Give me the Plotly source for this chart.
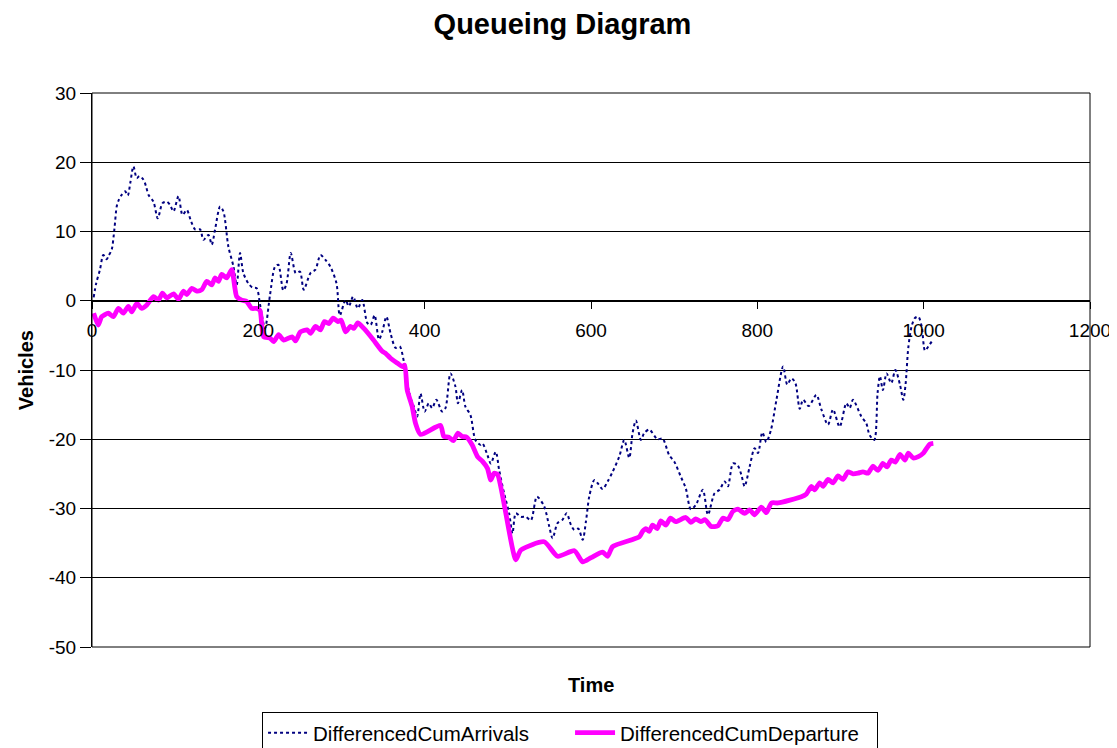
import plotly.graph_objects as go

# ---- data ----
arrival_time = [2, 5, 9.6, 13.6, 17.7, 20, 23.7, 26.9, 29.7, 32, 35.7, 39.8, 43, 46, 49.8, 53.8, 57,
                61.8, 65, 67.9, 73.9, 79.1, 84.8, 90, 94, 98, 104, 108.8, 114, 119, 124, 130, 134,
                140, 144, 148, 154, 158, 164, 170, 174, 178, 182, 188, 193, 198, 202, 208, 214, 220,
                224, 230, 234, 239, 245, 250, 254.6, 262.7, 268.7, 274.7, 280.7, 286.7, 294, 298,
                304.8, 308.8, 314, 319.6, 325, 331, 335, 339.8, 345, 349, 354, 359, 365, 370, 375,
                379, 383, 387, 391, 395, 400, 405, 409, 414, 421, 425, 431, 437, 440, 445, 449, 455,
                461, 467, 469.5, 475.5, 479.5, 485.5, 489.5, 495.5, 501.6, 505.6, 509.6, 515.7,
                521.7, 527.7, 535, 543.7, 549.8, 553.8, 559.8, 565.9, 570.7, 576, 580, 584.7, 590,
                594, 598, 604, 609, 614, 620, 626, 634, 640, 646, 650, 654, 660, 664, 670, 680, 686,
                694, 700, 708, 714, 720, 726, 734.5, 740.6, 748.6, 754.6, 760.6, 764.6, 770.7, 776,
                780.7, 784.7, 790.7, 796.7, 800.8, 806, 810.8, 816.5, 823, 831, 836, 841, 845.8, 851,
                855, 861.8, 871, 877, 885, 891, 899, 907, 911, 915, 925, 931, 935, 940.6, 944.6,
                947.4, 951, 955.4, 961, 966, 971.5, 975.5, 978.3, 981.5, 985.5, 989.5, 993.6, 997.6,
                1001.6, 1005.6, 1009.6]
arrivals = [0.5, 2.5, 4.5, 6.6, 6.0, 6.5, 7.4, 10.3, 13.6, 14.5, 15.3, 15.8, 15.2, 17.0, 19.4, 17.7,
            18.0, 17.5, 16.5, 15.3, 14.3, 11.9, 14.1, 14.3, 13.8, 12.9, 15.1, 12.4, 13.1, 11.5, 10.3,
            10.3, 8.8, 9.5, 8.1, 10.3, 13.6, 12.9, 7.8, 5.0, 2.3, 6.9, 4.0, 2.5, 1.9, 1.8, -0.5, -4.0,
            0.8, 4.9, 5.2, 1.5, 2.5, 6.9, 4.0, 4.2, 1.6, 4.0, 4.5, 6.6, 5.9, 4.9, 2.5, -2.1, 0.1,
            -0.8, 0.6, -1.1, 0.1, -3.2, -3.5, -2.1, -5.6, -4.5, -2.3, -4.7, -6.8, -6.6, -8.8, -11.9,
            -14.0, -15.3, -16.7, -13.4, -16.0, -14.8, -15.5, -14.3, -16.0, -15.5, -10.5, -12.4,
            -14.8, -12.9, -15.3, -16.5, -20.1, -20.8, -20.6, -22.3, -23.5, -21.8, -24.4, -27.8,
            -30.7, -33.6, -30.7, -31.2, -31.2, -31.7, -28.3, -29.7, -32.6, -34.3, -32.1, -31.6,
            -30.7, -32.4, -33.1, -32.9, -34.5, -31.8, -28.2, -25.9, -26.5, -27.2, -26.1, -24.7,
            -22.5, -20.1, -22.7, -19.1, -17.3, -20.1, -19.1, -18.6, -20.0, -19.9, -22.3, -23.2,
            -25.4, -27.1, -30.1, -29.5, -27.3, -30.9, -27.8, -27.3, -26.1, -26.8, -23.5, -23.7,
            -25.1, -26.8, -24.0, -21.3, -22.0, -19.0, -20.4, -18.6, -14.3, -9.5, -12.1, -11.2,
            -11.9, -15.6, -14.3, -15.2, -13.6, -15.7, -17.9, -15.7, -18.2, -14.8, -15.5, -14.3,
            -16.7, -17.7, -19.4, -20.1, -13.3, -10.9, -12.9, -10.5, -11.9, -10.0, -12.1, -14.3,
            -12.0, -6.8, -3.7, -2.5, -2.3, -3.7, -7.2, -6.6, -5.9]

departure_time = [2, 4, 7.6, 11.7, 19.6, 25.7, 31.7, 37.7, 43.7, 47.8, 53.8, 59.8, 65.9, 73.9, 79.9,
                  84.7, 89.9, 98, 104, 110, 114, 120, 126, 132, 138, 144, 148, 152, 156, 162, 168,
                  171.5, 174, 180, 186, 192, 198, 202, 206.4, 214, 218.4, 224.4, 230.5, 240.5, 244.6,
                  250.6, 258.6, 262.7, 268.7, 274.7, 279.5, 284.7, 290, 295.6, 299.6, 304.8, 310.8,
                  314.8, 319.6, 326.9, 338, 349, 353, 359, 367, 373, 376, 379, 385, 389, 395, 419,
                  423, 429, 434.6, 440, 445, 450.6, 457, 463.5, 469.5, 475.5, 479.5, 483.5, 487.6,
                  509.6, 515.7, 543.7, 559.8, 580, 590, 600, 614, 620, 626, 658, 662, 666, 670, 674,
                  679.5, 684, 690, 695.5, 702, 714, 720, 726, 732, 737, 744.6, 752.6, 758.6, 764.6,
                  770.7, 776.7, 784.7, 790.7, 796.7, 804.8, 810.8, 817, 825, 853, 859, 865, 869, 875,
                  879, 885, 891, 897, 903, 909, 915, 921, 927, 933, 939, 945, 951, 956, 961, 966,
                  971.5, 977.5, 981.5, 987.5, 993.6, 999.6, 1003.6, 1007.6, 1011.6]
departures = [-1.8, -2.5, -3.5, -2.3, -1.8, -2.3, -1.1, -1.8, -0.8, -1.6, -0.4, -1.1, -0.6, 0.6, 0.1,
              1.1, 0.4, 1.0, 0.2, 1.4, 0.9, 1.8, 1.4, 1.6, 2.8, 2.3, 3.3, 2.8, 3.8, 3.3, 4.5, 2.1,
              0.6, 0.1, -0.1, -1.1, -1.1, -1.4, -5.2, -5.4, -5.9, -4.9, -5.7, -5.2, -5.8, -4.5,
              -4.2, -4.7, -3.7, -4.2, -3.0, -3.3, -2.5, -3.0, -2.8, -4.5, -3.7, -4.0, -3.2, -4.0,
              -5.6, -7.3, -7.6, -8.3, -9.0, -9.5, -9.3, -12.9, -15.3, -17.7, -19.3, -18.0, -19.6,
              -19.7, -20.2, -19.1, -19.6, -19.7, -20.8, -22.5, -23.2, -24.2, -25.9, -24.9, -25.1,
              -37.4, -36.0, -34.8, -36.9, -36.1, -37.7, -37.1, -36.3, -36.9, -35.5, -34.1, -33.3,
              -32.9, -33.3, -32.4, -32.9, -31.8, -32.4, -31.4, -31.9, -31.3, -32.0, -31.5, -31.9,
              -31.6, -32.6, -32.5, -31.4, -31.6, -30.4, -30.1, -30.7, -30.2, -30.9, -29.8, -30.6,
              -29.2, -29.2, -28.3, -27.9, -26.8, -27.3, -26.3, -26.8, -25.8, -26.3, -25.3, -25.8,
              -24.7, -25.0, -24.9, -24.7, -24.9, -23.9, -24.5, -23.5, -24.0, -23.0, -23.3, -22.2,
              -23.0, -22.0, -22.7, -22.5, -22.0, -21.3, -20.7, -20.6]

x_ticks = [0, 200, 400, 600, 800, 1000, 1200]
y_ticks = [30, 20, 10, 0, -10, -20, -30, -40, -50]

FONT = "Liberation Sans, Arial, sans-serif"

# the page adds an 8px body margin, so the figure is drawn 8px smaller
FIG_W, FIG_H = 1109, 740

fig = go.Figure()
fig.add_trace(go.Scatter(
    x=arrival_time, y=arrivals, mode="lines", name="DifferencedCumArrivals",
    line=dict(color="#000080", width=2, dash="3px,3px", shape="spline", smoothing=0.8),
))
fig.add_trace(go.Scatter(
    x=departure_time, y=departures, mode="lines", name="DifferencedCumDeparture",
    line=dict(color="#FF00FF", width=4.8, shape="spline", smoothing=0.6),
))

fig.update_layout(
    width=FIG_W, height=FIG_H,
    margin=dict(l=84, r=27, t=85, b=101, autoexpand=False),
    paper_bgcolor="white", plot_bgcolor="white",
    font=dict(family=FONT, size=19, color="black"),
    title=dict(text="<b>Queueing Diagram</b>", x=0.5, xref="container", xanchor="center",
               y=1 - 16 / FIG_H, yref="container", yanchor="middle",
               font=dict(family=FONT, size=29, color="black")),
    showlegend=True,
    legend=dict(orientation="h", x=0.479, xanchor="center", y=-0.117, yanchor="top",
                bordercolor="black", borderwidth=1, bgcolor="white",
                font=dict(family=FONT, size=20.5, color="black"),
                itemwidth=40, tracegroupgap=0, entrywidth=252, entrywidthmode="pixels"),
)

fig.update_xaxes(
    range=[0, 1200], tickvals=x_ticks, ticktext=[str(v) for v in x_ticks],
    showgrid=False, zeroline=False,
    showline=True, linecolor="black", linewidth=1,
    ticks="outside", ticklen=7, tickcolor="black", tickwidth=1,
    anchor="free", position=0.625, ticklabelstandoff=5, automargin=False,
    tickfont=dict(family=FONT, size=19, color="black"),
)
fig.update_yaxes(
    range=[-50, 30], tickvals=y_ticks, ticktext=[str(v) for v in y_ticks],
    showgrid=True, gridcolor="black", gridwidth=1, zeroline=False,
    showline=True, linecolor="black", linewidth=1,
    ticks="outside", ticklen=11, tickcolor="black", tickwidth=1, automargin=False,
    tickfont=dict(family=FONT, size=19, color="black"),
    domain=[0, 1],
)

# plot-area border
fig.add_shape(type="rect", xref="paper", yref="paper", x0=0, x1=1, y0=0, y1=1,
              line=dict(color="black", width=1), fillcolor="rgba(0,0,0,0)", layer="above")

# axis titles
fig.add_annotation(text="<b>Vehicles</b>", xref="paper", yref="paper", x=-0.066, y=0.5,
                   xanchor="center", yanchor="middle", textangle=-90, showarrow=False,
                   font=dict(family=FONT, size=20, color="black"))
fig.add_annotation(text="<b>Time</b>", xref="paper", yref="paper", x=0.5, y=-0.0686,
                   xanchor="center", yanchor="middle", showarrow=False,
                   font=dict(family=FONT, size=20, color="black"))

fig.write_html("out.html")
